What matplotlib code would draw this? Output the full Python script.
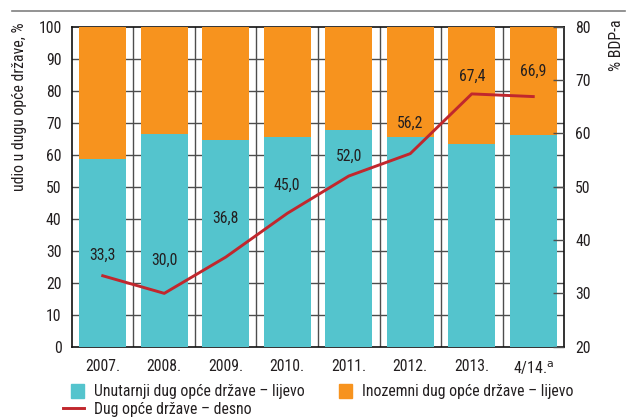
import matplotlib
matplotlib.use("Agg")
import matplotlib.pyplot as plt
from matplotlib import font_manager
from matplotlib.lines import Line2D
from matplotlib.patches import Patch, Rectangle
from matplotlib.legend_handler import HandlerPatch
import numpy as np

# Data
categories = ["2007.", "2008.", "2009.", "2010.", "2011.", "2012.", "2013.", "4/14.$^{\\mathrm{a}}$"]
domestic_share = [58.6, 66.4, 64.7, 65.5, 67.7, 65.5, 63.5, 66.3]
foreign_share = [100 - v for v in domestic_share]
debt_gdp = [33.3, 30.0, 36.8, 45.0, 52.0, 56.2, 67.4, 66.9]
debt_labels = ["33,3", "30,0", "36,8", "45,0", "52,0", "56,2", "67,4", "66,9"]

# Vertical offsets (points) of the value labels above the line
label_offsets = [15, 24, 28, 20, 14, 22, 13, 18]

# Prefer a narrow sans face; fall back to condensed DejaVu Sans
available = {f.name for f in font_manager.fontManager.ttflist}
narrow = [n for n in ("Roboto Condensed", "Liberation Sans Narrow", "Open Sans Condensed")
          if n in available]
if narrow:
    plt.rcParams["font.family"] = [narrow[0], "DejaVu Sans"]
else:
    plt.rcParams["font.family"] = ["DejaVu Sans"]
    plt.rcParams["font.stretch"] = "condensed"
plt.rcParams["mathtext.default"] = "regular"

teal = "#54C4CD"
orange = "#F7931E"
red = "#C1272D"
grid_c = "#4d4d4d"
text_c = "#231f20"
fs = 11.3

fig = plt.figure(figsize=(6.36, 4.18), dpi=100)
ax = fig.add_axes([0.1132, 0.1706, 0.7736, 0.7655])

x = np.arange(len(categories))
ax.bar(x, domestic_share, width=0.76, color=teal, zorder=3)
ax.bar(x, foreign_share, bottom=domestic_share, width=0.76, color=orange, zorder=3)

ax.set_xlim(-0.5, len(categories) - 0.5)
ax.set_ylim(0, 100)
ax.set_yticks(np.arange(0, 101, 10))
ax.set_xticks(x)
ax.set_xticklabels(categories)
ax.tick_params(axis="x", length=0, pad=9, labelsize=fs, colors=text_c)
ax.tick_params(axis="y", length=0, pad=7.5, labelsize=fs, colors=text_c)

# Grid: horizontal at each tick, vertical between categories
for yv in np.arange(10, 100, 10):
    ax.axhline(yv, color=grid_c, lw=1.0, zorder=1)
for xv in np.arange(0.5, len(categories) - 0.5, 1):
    ax.axvline(xv, color=grid_c, lw=1.0, zorder=1)

for s in ax.spines.values():
    s.set_color("#111111")
    s.set_linewidth(1.2)

ax.set_ylabel("udio u dugu opće države, %", fontsize=fs, color=text_c)
ax.yaxis.set_label_coords(-0.092, 1.012)
ax.yaxis.label.set_va("bottom")
ax.yaxis.label.set_ha("right")

ax2 = ax.twinx()
ax2.plot(x, debt_gdp, color=red, lw=2.1, zorder=5)
ax2.set_ylim(20, 80)
ax2.set_yticks(np.arange(20, 81, 10))
ax2.tick_params(axis="y", direction="in", length=8, width=1.0, color=grid_c,
                pad=8, labelsize=fs, colors=text_c)
for s in ax2.spines.values():
    s.set_visible(False)
ax2.set_ylabel("% BDP-a", fontsize=fs, color=text_c, rotation=90)
ax2.yaxis.set_label_coords(1.122, 1.022)
ax2.yaxis.label.set_va("bottom")
ax2.yaxis.label.set_ha("right")

for xi, yi, lab, off in zip(x, debt_gdp, debt_labels, label_offsets):
    ax2.annotate(lab, (xi, yi), xytext=(0, off), textcoords="offset points",
                 ha="center", va="center", fontsize=fs, color=text_c, zorder=6)

# Decorative rule above the chart
fig.add_artist(Line2D([12 / 636, 625 / 636], [1 - 11 / 418, 1 - 11 / 418],
                      color="#808080", lw=1.2))


def square_patch(legend, orig_handle, xdescent, ydescent, width, height, fontsize):
    # square swatch aligned to the right end of the handle box
    return Rectangle((width - height - xdescent, -ydescent), height, height)


sq = {Patch: HandlerPatch(patch_func=square_patch)}
common = dict(frameon=False, fontsize=fs, handlelength=1.35, handleheight=0.95,
              handletextpad=0.65, labelspacing=0.2, borderpad=0, borderaxespad=0,
              labelcolor=text_c, handler_map=sq)

leg1 = fig.legend([Patch(color=teal), Line2D([], [], color=red, lw=2.1)],
                  ["Unutarnji dug opće države – lijevo", "Dug opće države – desno"],
                  loc="upper left", bbox_to_anchor=(63 / 636, 1 - 384 / 418), **common)
leg2 = fig.legend([Patch(color=orange)], ["Inozemni dug opće države – lijevo"],
                  loc="upper left", bbox_to_anchor=(331 / 636, 1 - 384 / 418), **common)

fig.savefig("out.png", dpi=100)
